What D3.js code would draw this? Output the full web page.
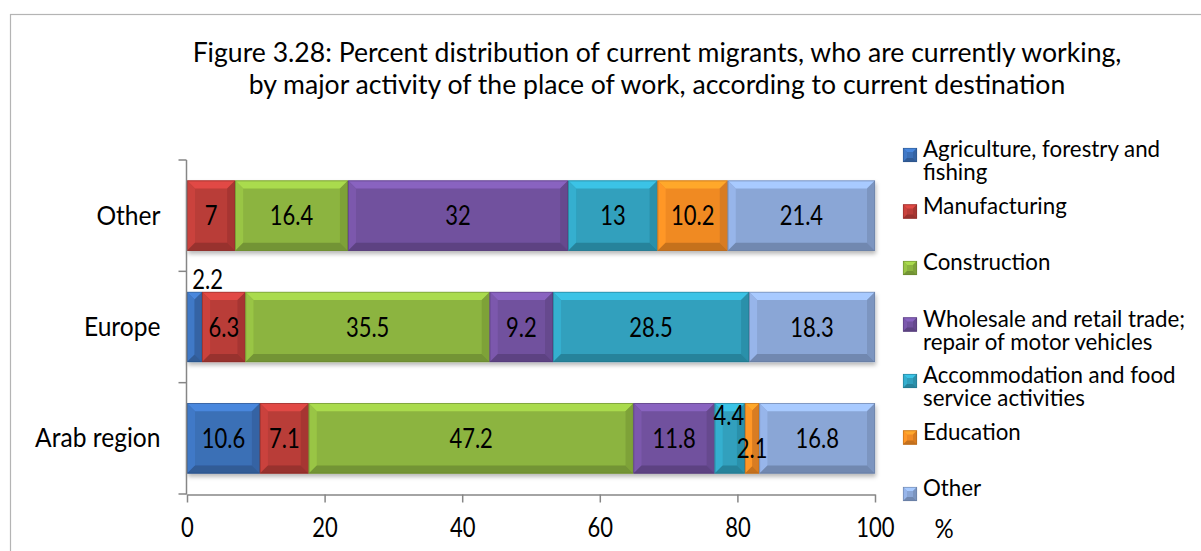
<!DOCTYPE html>
<html><head><meta charset="utf-8">
<script src="https://cdn.jsdelivr.net/npm/d3@7"></script>
<style>
body{margin:0;background:#fff}
svg{display:block}
text{font-family:Lato,"Open Sans",sans-serif;fill:#000}
</style>
</head><body>
<svg id="chart" width="1201" height="551"></svg>
<script>
// ---------- data ----------
const titleLines = [
  "Figure 3.28: Percent distribution of current migrants, who are currently working,",
  "by major activity of the place of work, according to current destination"
];
const categories = ["Other", "Europe", "Arab region"];
const seriesNames = [
  ["Agriculture, forestry and", "fishing"],
  ["Manufacturing"],
  ["Construction"],
  ["Wholesale and retail trade;", "repair of motor vehicles"],
  ["Accommodation and food", "service activities"],
  ["Education"],
  ["Other"]
];
const agriculture   = [0,    2.2,  10.6];
const manufacturing = [7,    6.3,  7.1];
const construction  = [16.4, 35.5, 47.2];
const wholesale     = [32,   9.2,  11.8];
const accommodation = [13,   28.5, 4.4];
const education     = [10.2, 0,    2.1];
const other         = [21.4, 18.3, 16.8];
const xTicks = [0, 20, 40, 60, 80, 100];
const unitLabel = "%";

// ---------- styling ----------
const colors = ["#3b6fb6", "#b93c38", "#8cb43f", "#71519e", "#30a0bd", "#f08a24", "#8aa6d6"];
const keys = ["agriculture","manufacturing","construction","wholesale","accommodation","education","other"];
const seriesValues = [agriculture, manufacturing, construction, wholesale, accommodation, education, other];
const table = categories.map((c, i) => {
  const row = {category: c};
  keys.forEach((k, j) => row[k] = seriesValues[j][i]);
  return row;
});
// manual label nudges (layout only)
const nudge = {"Europe|agriculture": [13, -48], "Arab region|accommodation": [-1, -23], "Arab region|education": [0, 10]};

const svg = d3.select("#chart");
const defs = svg.append("defs");
const f = defs.append("filter").attr("id", "shadow").attr("x", "-5%").attr("y", "-20%").attr("width", "110%").attr("height", "150%");
f.append("feDropShadow").attr("dx", 1).attr("dy", 3).attr("stdDeviation", 2).attr("flood-color", "#000").attr("flood-opacity", 0.28);

function stretch(sel, x, y, size, k) {
  sel.attr("x", 0).attr("y", 0)
     .attr("font-size", size)
     .attr("transform", `translate(${x},${y}) scale(1,${k})`);
  return sel;
}

// frame
svg.append("rect").attr("x", 10.5).attr("y", 14.5).attr("width", 1400).attr("height", 700)
  .attr("fill", "none").attr("stroke", "#b4b4b4").attr("stroke-width", 1.2);

// title
titleLines.forEach((t, i) => {
  stretch(svg.append("text").attr("text-anchor", "middle").text(t), 657, 61.5 + i * 32, 26.6, 0.98);
});

const x = d3.scaleLinear().domain([0, 100]).range([187, 875]);
const y = d3.scaleBand().domain(categories).range([160, 494]).paddingInner(0.37).paddingOuter(0.185);

const stack = d3.stack().keys(keys)(table);

function bevel(g, x0, x1, y0, y1, base, bw) {
  const w = x1 - x0, h = y1 - y0;
  const b = Math.min(bw, w / 2, h / 2);
  const c = d3.color(base);
  g.append("rect").attr("x", x0).attr("y", y0).attr("width", w).attr("height", h).attr("fill", base);
  const poly = (pts, fill) => g.append("polygon").attr("points", pts.map(p => p.join(",")).join(" ")).attr("fill", fill);
  poly([[x0, y0], [x1, y0], [x1 - b, y0 + b], [x0 + b, y0 + b]], c.brighter(0.55).formatHex());
  poly([[x0, y0], [x0 + b, y0 + b], [x0 + b, y1 - b], [x0, y1]], c.brighter(0.25).formatHex());
  poly([[x1, y0], [x1, y1], [x1 - b, y1 - b], [x1 - b, y0 + b]], c.darker(0.3).formatHex());
  poly([[x0, y1], [x0 + b, y1 - b], [x1 - b, y1 - b], [x1, y1]], c.darker(0.55).formatHex());
  g.append("rect").attr("x", x0 + 0.3).attr("y", y0 + 0.3).attr("width", w - 0.6).attr("height", h - 0.6)
    .attr("fill", "none").attr("stroke", c.darker(0.9).formatHex()).attr("stroke-width", 0.8).attr("stroke-opacity", 0.7);
}

// bars
const barsG = svg.append("g").attr("filter", "url(#shadow)");
stack.forEach((s, si) => {
  s.forEach(d => {
    if (d[1] - d[0] <= 0) return;
    const g = barsG.append("g");
    bevel(g, x(d[0]), x(d[1]), y(d.data.category), y(d.data.category) + y.bandwidth(), colors[si], 8);
  });
});

// data labels
stack.forEach((s, si) => {
  s.forEach(d => {
    const v = d[1] - d[0];
    if (v <= 0) return;
    const val = seriesValues[si][categories.indexOf(d.data.category)];
    const n = nudge[d.data.category + "|" + keys[si]] || [0, 0];
    const cx = (x(d[0]) + x(d[1])) / 2 + n[0];
    const cy = y(d.data.category) + y.bandwidth() / 2 + n[1];
    stretch(svg.append("text").attr("text-anchor", "middle").text(String(val)), cx, cy + 9.5, 22, 1.2);
  });
});

// x axis
const axisColor = "#868686";
const xg = svg.append("g").attr("transform", "translate(0,494.5)")
  .call(d3.axisBottom(x).tickValues(xTicks).tickSize(8).tickSizeOuter(0).tickFormat(d3.format("d")));
xg.select(".domain").attr("stroke", axisColor).attr("stroke-width", 1.5);
xg.selectAll(".tick line").attr("stroke", axisColor).attr("stroke-width", 1.5);
xg.selectAll(".tick text").each(function () {
  const t = d3.select(this).attr("dy", null).attr("fill", "#000");
  stretch(t, 0, 42.5, 22, 1.2);
});
stretch(svg.append("text").attr("text-anchor", "middle").text(unitLabel), 944, 538, 24, 1.15);

// y axis
const yg = svg.append("g").attr("transform", `translate(${x(0) - 0.5},0)`)
  .call(d3.axisLeft(y).tickSize(0).tickPadding(26));
yg.select(".domain").remove();
yg.selectAll(".tick text").each(function () {
  const t = d3.select(this).attr("dy", null).attr("fill", "#000");
  stretch(t, -26, 9, 24.6, 1.1);
});
const bounds = categories.map(c => y(c) - y.step() * y.paddingInner() / 2).concat([y(categories[categories.length - 1]) + y.bandwidth() + y.step() * y.paddingInner() / 2]);
yg.append("line").attr("x1", 0).attr("x2", 0).attr("y1", bounds[0]).attr("y2", bounds[bounds.length - 1] + 0.5)
  .attr("stroke", axisColor).attr("stroke-width", 1.5);
yg.selectAll(".bt").data(bounds).join("line").attr("class", "bt")
  .attr("x1", -8).attr("x2", 0).attr("y1", d => d).attr("y2", d => d)
  .attr("stroke", axisColor).attr("stroke-width", 1.5);

// legend
const legG = svg.append("g");
seriesNames.forEach((lines, i) => {
  const base = 157 + 56.5 * i;
  const g = legG.append("g");
  bevel(g, 903, 917, base - 9, base + 5, colors[i], 4);
  const t = stretch(legG.append("text"), 923, base, 22.3, 1.0);
  lines.forEach((ln, j) => {
    t.append("tspan").attr("x", 0).attr("dy", j === 0 ? 0 : 23).text(ln);
  });
});
</script>
</body></html>
